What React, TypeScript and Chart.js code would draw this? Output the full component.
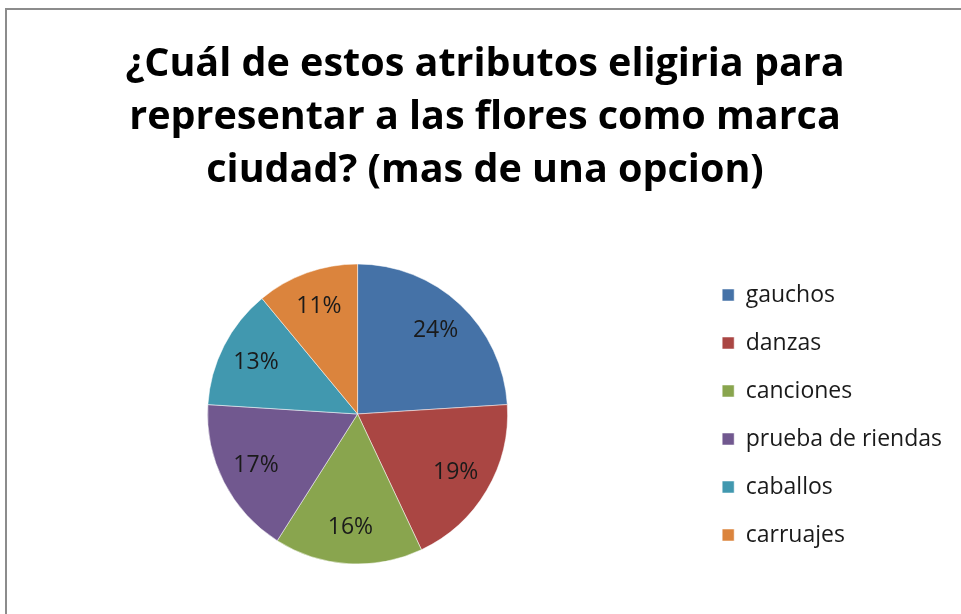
import React, { useEffect, useRef } from "react";
import { Chart, registerables } from "chart.js";

Chart.register(...registerables);

const titleLines = [
  "¿Cuál de estos atributos eligiria para",
  "representar a las flores como marca",
  "ciudad? (mas de una opcion)",
];
const categories = ["gauchos", "danzas", "canciones", "prueba de riendas", "caballos", "carruajes"];
const values = [24, 19, 16, 17, 13, 11];
const colors = ["#4572A7", "#AA4643", "#89A54E", "#71588F", "#4198AF", "#DB843D"];

const FONT = "'Open Sans', 'DejaVu Sans', sans-serif";

const pieLabels = {
  id: "pieLabels",
  afterDatasetsDraw(chart: any) {
    const { ctx } = chart;
    const meta = chart.getDatasetMeta(0);
    const data = chart.data.datasets[0].data as number[];
    const total = data.reduce((a, b) => a + b, 0);
    ctx.save();
    ctx.font = `23px ${FONT}`;
    ctx.fillStyle = "#1a1a1a";
    ctx.textAlign = "center";
    ctx.textBaseline = "middle";
    meta.data.forEach((arc: any, i: number) => {
      const { x, y, startAngle, endAngle, outerRadius } = arc.getProps(
        ["x", "y", "startAngle", "endAngle", "outerRadius"],
        true
      );
      const mid = (startAngle + endAngle) / 2;
      const r = outerRadius * 0.76;
      const label = Math.round((data[i] / total) * 100) + "%";
      ctx.fillText(label, x + Math.cos(mid) * r, y + Math.sin(mid) * r);
    });
    ctx.restore();
  },
};

export default function App() {
  const ref = useRef<HTMLCanvasElement | null>(null);
  useEffect(() => {
    if (!ref.current) return;
    const chart = new Chart(ref.current, {
      type: "pie",
      data: {
        labels: categories,
        datasets: [
          {
            data: values,
            backgroundColor: colors,
            borderColor: "rgba(255,255,255,0.5)",
            borderWidth: 1,
          },
        ],
      },
      options: {
        animation: false,
        responsive: false,
        devicePixelRatio: 1,
        radius: 150,
        layout: { padding: { left: 11, right: 9, top: 0, bottom: 42.5 } },
        plugins: {
          tooltip: { enabled: false },
          title: {
            display: true,
            text: titleLines,
            color: "#000",
            font: { family: FONT, size: 39.5, weight: "bold", lineHeight: 53 / 39.5 },
            padding: { top: 28.5, bottom: 59 },
          },
          legend: {
            display: true,
            position: "right",
            align: "end",
            fullSize: true,
            labels: {
              boxWidth: 12,
              boxHeight: 12,
              padding: 25,
              color: "#1a1a1a",
              font: { family: FONT, size: 23 },
            },
          },
        },
      },
      plugins: [pieLabels],
    });
    return () => chart.destroy();
  }, []);
  return (
    <div
      style={{
        position: "absolute",
        left: 0,
        top: 0,
        width: 961,
        height: 614,
        background: "#fff",
        overflow: "hidden",
      }}
    >
      <div
        style={{
          position: "absolute",
          left: 5,
          top: 8,
          width: 956,
          height: 606,
          borderLeft: "2px solid #8c8c8c",
          borderTop: "2px solid #8c8c8c",
        }}
      >
        <canvas ref={ref} width={954} height={604} style={{ display: "block", width: 954, height: 604 }} />
      </div>
    </div>
  );
}
